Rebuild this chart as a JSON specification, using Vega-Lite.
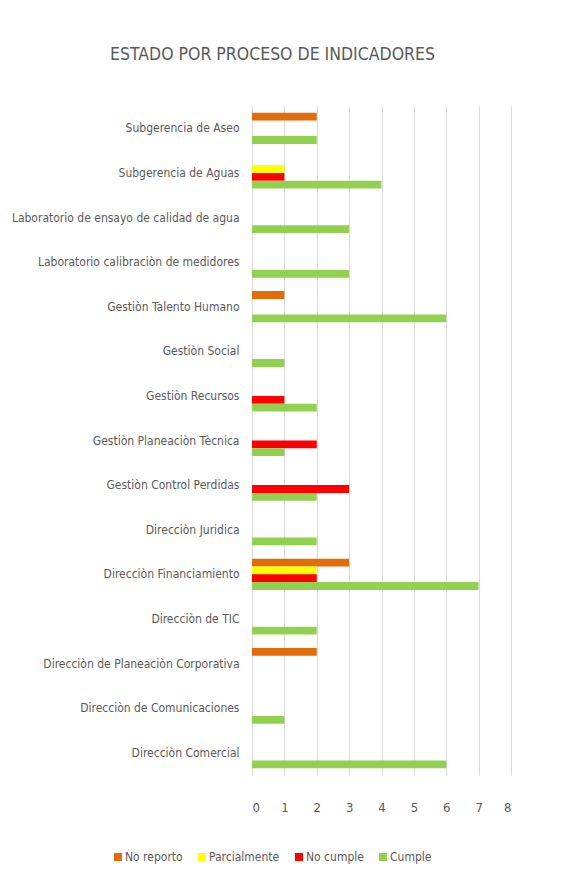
{
  "$schema": "https://vega.github.io/schema/vega-lite/v6.json",
  "width": 259,
  "height": 669,
  "autosize": {"type": "none"},
  "padding": {"left": 252, "top": 106, "right": 57, "bottom": 117},
  "background": "white",
  "title": {
    "text": "ESTADO POR PROCESO DE INDICADORES",
    "font": "DejaVu Sans Condensed, Open Sans, sans-serif",
    "fontSize": 17.5,
    "fontWeight": "normal",
    "color": "#595959",
    "anchor": "middle",
    "dx": -109,
    "offset": 43
  },
  "config": {
    "view": {"stroke": null},
    "font": "DejaVu Sans Condensed, Open Sans, sans-serif"
  },
  "data": {
    "values": [
      {"proceso": "Subgerencia de Aseo", "estado": "No reporto", "valor": 2},
      {"proceso": "Subgerencia de Aseo", "estado": "Cumple", "valor": 2},
      {"proceso": "Subgerencia de Aguas", "estado": "Parcialmente", "valor": 1},
      {"proceso": "Subgerencia de Aguas", "estado": "No cumple", "valor": 1},
      {"proceso": "Subgerencia de Aguas", "estado": "Cumple", "valor": 4},
      {"proceso": "Laboratorio de ensayo de calidad de agua", "estado": "Cumple", "valor": 3},
      {"proceso": "Laboratorio calibraciòn de medidores", "estado": "Cumple", "valor": 3},
      {"proceso": "Gestiòn Talento Humano", "estado": "No reporto", "valor": 1},
      {"proceso": "Gestiòn Talento Humano", "estado": "Cumple", "valor": 6},
      {"proceso": "Gestiòn Social", "estado": "Cumple", "valor": 1},
      {"proceso": "Gestiòn Recursos", "estado": "No cumple", "valor": 1},
      {"proceso": "Gestiòn Recursos", "estado": "Cumple", "valor": 2},
      {"proceso": "Gestiòn Planeaciòn Tècnica", "estado": "No cumple", "valor": 2},
      {"proceso": "Gestiòn Planeaciòn Tècnica", "estado": "Cumple", "valor": 1},
      {"proceso": "Gestiòn Control Perdidas", "estado": "No cumple", "valor": 3},
      {"proceso": "Gestiòn Control Perdidas", "estado": "Cumple", "valor": 2},
      {"proceso": "Direcciòn Juridica", "estado": "Cumple", "valor": 2},
      {"proceso": "Direcciòn Financiamiento", "estado": "No reporto", "valor": 3},
      {"proceso": "Direcciòn Financiamiento", "estado": "Parcialmente", "valor": 2},
      {"proceso": "Direcciòn Financiamiento", "estado": "No cumple", "valor": 2},
      {"proceso": "Direcciòn Financiamiento", "estado": "Cumple", "valor": 7},
      {"proceso": "Direcciòn de TIC", "estado": "Cumple", "valor": 2},
      {"proceso": "Direcciòn de Planeaciòn Corporativa", "estado": "No reporto", "valor": 2},
      {"proceso": "Direcciòn de Comunicaciones", "estado": "Cumple", "valor": 1},
      {"proceso": "Direcciòn Comercial", "estado": "Cumple", "valor": 6}
    ]
  },
  "mark": {"type": "bar"},
  "encoding": {
    "y": {
      "field": "proceso",
      "type": "nominal",
      "sort": null,
      "scale": {
        "domain": ["Subgerencia de Aseo", "Subgerencia de Aguas", "Laboratorio de ensayo de calidad de agua", "Laboratorio calibraciòn de medidores", "Gestiòn Talento Humano", "Gestiòn Social", "Gestiòn Recursos", "Gestiòn Planeaciòn Tècnica", "Gestiòn Control Perdidas", "Direcciòn Juridica", "Direcciòn Financiamiento", "Direcciòn de TIC", "Direcciòn de Planeaciòn Corporativa", "Direcciòn de Comunicaciones", "Direcciòn Comercial"],
        "paddingInner": 0.3,
        "paddingOuter": 0.15
      },
      "axis": {
        "title": null,
        "domain": false,
        "ticks": false,
        "labelFontSize": 12,
        "labelColor": "#595959",
        "labelPadding": 13,
        "labelLimit": 250
      }
    },
    "yOffset": {
      "field": "estado",
      "type": "nominal",
      "scale": {"domain": ["No reporto", "Parcialmente", "No cumple", "Cumple"], "paddingInner": 0, "paddingOuter": 0}
    },
    "x": {
      "field": "valor",
      "type": "quantitative",
      "scale": {"domain": [0, 8], "nice": false},
      "axis": {
        "title": null,
        "domain": false,
        "ticks": false,
        "values": [0, 1, 2, 3, 4, 5, 6, 7, 8],
        "labelOverlap": false,
        "grid": true,
        "gridColor": "#d9d9d9",
        "labelFontSize": 13,
        "labelColor": "#595959",
        "labelPadding": 26
      }
    },
    "color": {
      "field": "estado",
      "type": "nominal",
      "scale": {
        "domain": ["No reporto", "Parcialmente", "No cumple", "Cumple"],
        "range": ["#E36C0A", "#FFFF00", "#FF0000", "#92D050"]
      },
      "legend": {
        "title": null,
        "orient": "none",
        "direction": "horizontal",
        "legendX": -140,
        "legendY": 745,
        "symbolType": "square",
        "symbolSize": 64,
        "symbolOpacity": 1,
        "symbolStrokeWidth": 0,
        "labelFontSize": 12,
        "labelColor": "#595959",
        "labelOffset": 1,
        "columnPadding": 13
      }
    }
  }
}
